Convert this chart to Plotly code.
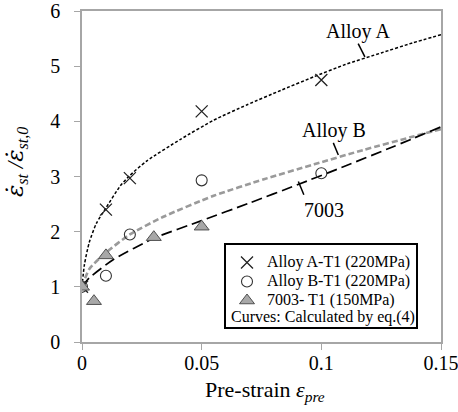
import plotly.graph_objects as go

# ---- measured data ----
alloyA_x = [0, 0.01, 0.02, 0.05, 0.1]
alloyA_y = [1.0, 2.40, 2.97, 4.18, 4.75]

alloyB_x = [0, 0.01, 0.02, 0.05, 0.1]
alloyB_y = [1.0, 1.20, 1.95, 2.93, 3.06]

a7003_x = [0, 0.005, 0.01, 0.03, 0.05]
a7003_y = [1.0, 0.74, 1.57, 1.90, 2.09]

# ---- calculated curves ----
curveA_x = [0, 0.001, 0.003, 0.006, 0.01, 0.016, 0.02, 0.027, 0.041, 0.055,
            0.069, 0.083, 0.097, 0.11, 0.125, 0.138, 0.15]
curveA_y = [1.0, 1.40, 1.80, 2.15, 2.43, 2.83, 3.02, 3.28, 3.67, 4.02,
            4.30, 4.56, 4.81, 5.03, 5.24, 5.42, 5.57]

curveB_x = [0, 0.003, 0.01, 0.02, 0.034, 0.055, 0.076, 0.097, 0.1175, 0.138, 0.15]
curveB_y = [1.0, 1.32, 1.62, 1.95, 2.27, 2.65, 2.95, 3.22, 3.48, 3.72, 3.86]

curve7003_x = [0, 0.003, 0.013, 0.03, 0.05, 0.07, 0.09, 0.11, 0.13, 0.15]
curve7003_y = [1.0, 1.16, 1.49, 1.88, 2.20, 2.52, 2.85, 3.19, 3.54, 3.90]

legend_names = ["Alloy A-T1 (220MPa)", "Alloy B-T1 (220MPa)", "7003- T1 (150MPa)"]
x_ticks = [0, 0.05, 0.1, 0.15]
x_ticktext = ["0", "0.05", "0.1", "0.15"]
y_ticks = [0, 1, 2, 3, 4, 5, 6]

FONT = "Liberation Serif, Times New Roman, serif"
AXIS_GRAY = "#a6a6a6"

# plot area in pixels
L, R, T, B = 82, 441, 11, 342
PW, PH = R - L, B - T


def px(xp):
    return (xp - L) / PW


def py(yp):
    return (B - yp) / PH


fig = go.Figure()

fig.add_trace(go.Scatter(x=curveA_x, y=curveA_y, mode="lines", showlegend=False,
                         line=dict(color="black", width=1.5, dash="3px,2px", shape="spline", smoothing=0.6),
                         hoverinfo="skip"))
fig.add_trace(go.Scatter(x=curveB_x, y=curveB_y, mode="lines", showlegend=False,
                         line=dict(color="#9a9a9a", width=2.6, dash="6px,3px", shape="spline", smoothing=0.6),
                         hoverinfo="skip"))
fig.add_trace(go.Scatter(x=curve7003_x, y=curve7003_y, mode="lines", showlegend=False,
                         line=dict(color="black", width=1.7, dash="11px,5px", shape="spline", smoothing=0.6),
                         hoverinfo="skip"))

LEG_SPAN = '<span style="font-size:16px">{}</span>'
fig.add_trace(go.Scatter(x=alloyA_x, y=alloyA_y, mode="markers", name=LEG_SPAN.format(legend_names[0]),
                         marker=dict(symbol="x-thin", size=12, color="black",
                                     line=dict(color="#222222", width=1.3))))
fig.add_trace(go.Scatter(x=alloyB_x, y=alloyB_y, mode="markers", name=LEG_SPAN.format(legend_names[1]),
                         marker=dict(symbol="circle-open", size=11, color="#333333",
                                     line=dict(color="#333333", width=1.1))))
fig.add_trace(go.Scatter(x=a7003_x, y=a7003_y, mode="markers", name=LEG_SPAN.format(legend_names[2]),
                         marker=dict(symbol="triangle-up", size=13, color="#a8a8a8",
                                     line=dict(color="#505050", width=1))))

# curve labels with leader lines
labels = [
    dict(text="Alloy A", x=0.1153, y=5.63, lx=(0.1154, 0.1182), ly=(5.41, 5.17)),
    dict(text="Alloy B", x=0.1053, y=3.83, lx=(0.1050, 0.1071), ly=(3.61, 3.39)),
    dict(text="7003", x=0.1011, y=2.39, lx=(0.0904, 0.0927), ly=(2.91, 2.67)),
]
for lb in labels:
    fig.add_annotation(x=lb["x"], y=lb["y"], xref="x", yref="y", text=lb["text"],
                       showarrow=False, font=dict(family=FONT, size=20, color="black"),
                       xanchor="center", yanchor="middle")
    fig.add_shape(type="line", xref="x", yref="y", x0=lb["lx"][0], x1=lb["lx"][1],
                  y0=lb["ly"][0], y1=lb["ly"][1], line=dict(color="black", width=1.5))

# legend box
fig.add_shape(type="rect", xref="paper", yref="paper",
              x0=px(225), x1=px(417), y0=py(328), y1=py(244),
              line=dict(color="black", width=2), fillcolor="rgba(0,0,0,0)", layer="above")
fig.add_annotation(x=px(229), y=py(317), xref="paper", yref="paper",
                   text="Curves: Calculated by eq.(4)", showarrow=False,
                   xanchor="left", yanchor="middle",
                   font=dict(family=FONT, size=16, color="black"))

# axis titles
fig.add_annotation(x=px(265), y=py(391), xref="paper", yref="paper",
                   text="Pre-strain <i>ε<sub>pre</sub></i>", showarrow=False,
                   xanchor="center", yanchor="middle",
                   font=dict(family=FONT, size=22, color="black"))
EDOT = '<span style="font-family:DejaVu Serif">ε\u0307</span>'
fig.add_annotation(x=px(16), y=py(162), xref="paper", yref="paper",
                   text="<i>" + EDOT + "<sub>st</sub> /" + EDOT + "<sub>st,0</sub></i>", showarrow=False,
                   textangle=-90, xanchor="center", yanchor="middle",
                   font=dict(family=FONT, size=23, color="black"))

fig.update_layout(
    width=458, height=412,
    margin=dict(l=L, r=458 - R, t=T, b=412 - B, autoexpand=False),
    paper_bgcolor="white", plot_bgcolor="white",
    font=dict(family=FONT, color="black"),
    showlegend=True,
    legend=dict(x=px(227), y=py(248), xanchor="left", yanchor="top",
                bgcolor="rgba(0,0,0,0)", borderwidth=0,
                font=dict(family=FONT, size=12, color="black"),
                tracegroupgap=0),
)
fig.update_xaxes(range=[0, 0.15], tickvals=x_ticks, ticktext=x_ticktext,
                 showgrid=False, zeroline=False, automargin=False,
                 showline=True, linecolor=AXIS_GRAY, linewidth=1.6, mirror=True,
                 ticks="outside", ticklen=6, tickcolor=AXIS_GRAY, tickwidth=1.3,
                 ticklabeloverflow="allow",
                 tickfont=dict(family=FONT, size=20, color="black"), ticklabelstandoff=-4)
fig.update_yaxes(range=[0, 6], tickvals=y_ticks,
                 showgrid=False, zeroline=False, automargin=False,
                 showline=True, linecolor=AXIS_GRAY, linewidth=1.6, mirror=True,
                 ticks="outside", ticklen=6, tickcolor=AXIS_GRAY, tickwidth=1.3,
                 ticklabeloverflow="allow",
                 tickfont=dict(family=FONT, size=20, color="black"), ticklabelstandoff=10)

fig.write_html("out.html", config={"displayModeBar": False},
               post_script="document.body.style.margin='0';")
